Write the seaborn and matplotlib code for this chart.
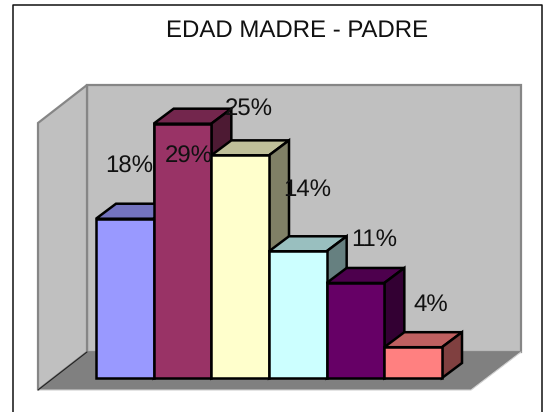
import matplotlib
matplotlib.use("Agg")
import matplotlib.pyplot as plt
from matplotlib.colors import to_rgb
from matplotlib.lines import Line2D
from matplotlib.patches import Polygon, Rectangle
from matplotlib.transforms import Affine2D
import pandas as pd
import seaborn as sns

title = "EDAD MADRE - PADRE"
categories = ["A", "B", "C", "D", "E", "F"]
heights = [18.1, 28.9, 25.3, 14.4, 10.8, 3.5]
labels = ["18%", "29%", "25%", "14%", "11%", "4%"]
colors = ["#9999FF", "#993366", "#FFFFCC", "#CCFFFF", "#660066", "#FF8080"]

W, H = 543, 412
sns.set_theme(style="white")
plt.rcParams["font.family"] = ["Liberation Sans", "DejaVu Sans"]
plt.rcParams["text.hinting"] = "none"
plt.rcParams["text.hinting_factor"] = 1
fig = plt.figure(figsize=(W / 100, H / 100), dpi=100, facecolor="white")

# pixel coordinates for the chart frame and 3-D walls (y down)
px = Affine2D().scale(1, -1).translate(0, H)

def poly(points, fc, ec="none", lw=0, z=1):
    fig.add_artist(Polygon(points, closed=True, facecolor=fc, edgecolor=ec,
                           linewidth=lw, transform=px, zorder=z, joinstyle="miter"))

# chart frame: open at the bottom, as it is cut by the picture edge
fig.add_artist(Line2D([12.5, 12.5, 542, 542], [412, 5, 5, 412], color="#111111", linewidth=1.1,
                      transform=px, zorder=0))
WALL, EDGE = "#C0C0C0", "#868686"
poly([(87, 85), (521, 85), (521, 352), (87, 352)], WALL, EDGE, 1.6)
poly([(38, 123), (87, 85), (87, 352), (38, 390)], WALL, EDGE, 1.6)
poly([(38, 390), (87, 352), (521, 352), (471, 390)], "#808080", "none", 0)
fig.add_artist(Line2D([38, 471, 521], [390, 390, 352], color="#D0D0D0", linewidth=0.8,
                      transform=px, zorder=1))
fig.add_artist(Line2D([38, 87], [390, 352], color="#222222", linewidth=0.8,
                      transform=px, zorder=1))

# plot area: bars share edges, baseline at y=378 px, 8.8 px per percent
left, right, base, ppu = 96, 442, 378, 8.8
top_px = base - 30 * ppu
ax = fig.add_axes([left / W, 1 - base / H, (right - left) / W, (base - top_px) / H])
ax.set_zorder(5)
ax.patch.set_alpha(0)
LW = 1.8
df = pd.DataFrame({"cat": categories, "val": heights})
sns.barplot(data=df, x="cat", y="val", hue="cat", palette=colors, legend=False,
            width=1.0, saturation=1, ax=ax, edgecolor="black", linewidth=LW, zorder=5)
ax.set_xlim(-0.5, 5.5)
ax.set_ylim(0, 30)
ax.axis("off")

# depth of the extruded bars, in axis units
dx, dy = 20 / (right - left) * 6, 15 / ppu

def shade(c, f):
    return tuple(v * f for v in to_rgb(c))

for i, (h, c) in enumerate(zip(heights, colors)):
    x0, x1 = i - 0.5, i + 0.5
    ax.add_patch(Polygon([(x0, h), (x1, h), (x1 + dx, h + dy), (x0 + dx, h + dy)], closed=True,
                         facecolor=shade(c, 0.75), edgecolor="black", linewidth=LW,
                         clip_on=False, zorder=10 + i))
    ax.add_patch(Polygon([(x1, 0), (x1, h), (x1 + dx, h + dy), (x1 + dx, dy)], closed=True,
                         facecolor=shade(c, 0.5), edgecolor="black", linewidth=LW,
                         clip_on=False, zorder=10 + i))
    ax.add_patch(Rectangle((x0, 0), 1, h, facecolor=c, edgecolor="black", linewidth=LW,
                           clip_on=False, zorder=10.5 + i))

label_px = [(129, 167), (189, 157), (249, 110), (307, 190), (374, 240), (431, 305)]
for (lx, ly), s in zip(label_px, labels):
    fig.text(lx, ly, s, transform=px, ha="center", va="center", fontsize=17,
             color="#111111", zorder=30)
fig.text(297, 31, title, transform=px, ha="center", va="center", fontsize=17.1, color="#111111")

fig.savefig("out.png", dpi=100)
